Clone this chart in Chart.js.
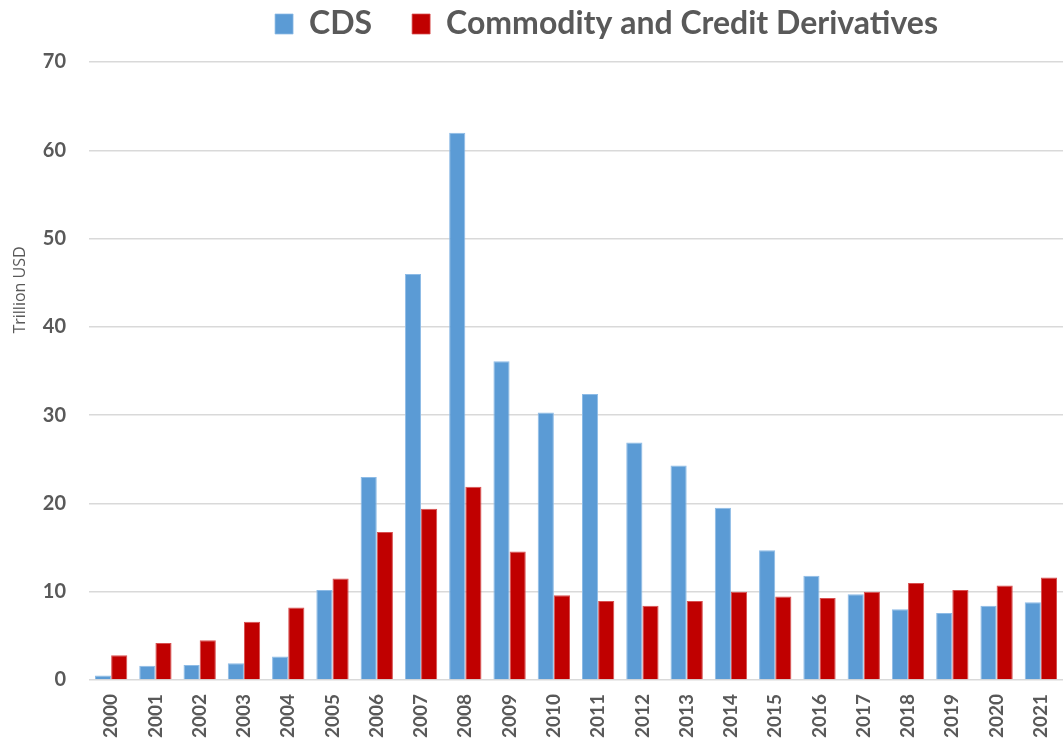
<!DOCTYPE html>
<html>
<head>
<meta charset="utf-8">
<script src="https://cdn.jsdelivr.net/npm/chart.js@4/dist/chart.umd.min.js"></script>
<style>
  html, body { margin: 0; padding: 0; background: #ffffff; }
  #wrap { width: 1063px; height: 742px; position: relative; }
</style>
</head>
<body>
<div id="wrap"><canvas id="c" width="1063" height="742"></canvas></div>
<script>
// Years on the category axis
const years = ['2000','2001','2002','2003','2004','2005','2006','2007','2008','2009','2010',
               '2011','2012','2013','2014','2015','2016','2017','2018','2019','2020','2021'];

// Notional outstanding, trillion USD
const cdsValues = [0.5, 1.6, 1.7, 1.9, 2.65, 10.2, 23.0, 46.0, 62.0, 36.1, 30.3,
                   32.4, 26.9, 24.3, 19.5, 14.7, 11.8, 9.7, 8.0, 7.6, 8.4, 8.8];
const commodityCreditValues = [2.8, 4.2, 4.5, 6.6, 8.2, 11.5, 16.75, 19.4, 21.9, 14.55, 9.6,
                               8.95, 8.4, 8.95, 10.0, 9.45, 9.3, 10.0, 11.0, 10.2, 10.7, 11.6];

const seriesNames = ['CDS', 'Commodity and Credit Derivatives'];
const yTicks = [0, 10, 20, 30, 40, 50, 60, 70];
const yAxisTitle = 'Trillion USD';

const textGray = '#595959';
const fontFamily = 'Lato, "Open Sans", sans-serif';

// Rotated axis title on the left, placed in the upper half of the axis
const sideTitle = {
  id: 'sideTitle',
  afterDraw(chart) {
    const ctx = chart.ctx;
    ctx.save();
    ctx.translate(20, 290);
    ctx.rotate(-Math.PI / 2);
    ctx.font = '16px "Open Sans", sans-serif';
    ctx.fillStyle = textGray;
    ctx.textAlign = 'center';
    ctx.textBaseline = 'middle';
    ctx.fillText(yAxisTitle, 0, 0);
    ctx.restore();
  }
};

// Nudge the legend row to the right of the canvas centre
const legendShift = {
  id: 'legendShift',
  afterUpdate(chart) {
    const lg = chart.legend;
    if (lg) { lg.left += 73; lg.right += 73; }
  }
};

new Chart(document.getElementById('c'), {
  type: 'bar',
  data: {
    labels: years,
    datasets: [
      {
        label: seriesNames[0],
        data: cdsValues,
        backgroundColor: '#5B9BD5',
        borderColor: '#8DBBE6',
        borderWidth: { top: 1, left: 1, right: 1, bottom: 0 },
        categoryPercentage: 0.73,
        barPercentage: 1.0
      },
      {
        label: seriesNames[1],
        data: commodityCreditValues,
        backgroundColor: '#C00000',
        borderColor: '#D85050',
        borderWidth: { top: 1, left: 1, right: 1, bottom: 0 },
        categoryPercentage: 0.73,
        barPercentage: 1.0
      }
    ]
  },
  options: {
    responsive: false,
    animation: false,
    layout: { padding: { top: -32, right: -4, bottom: 0, left: 0 } },
    plugins: {
      tooltip: { enabled: false },
      legend: {
        position: 'top',
        align: 'center',
        labels: {
          boxWidth: 18,
          boxHeight: 20,
          padding: 40,
          color: textGray,
          font: { family: fontFamily, size: 32, weight: 'bold' }
        }
      },
      subtitle: {
        display: true,
        text: '',
        weight: 500,
        padding: { top: 0, bottom: 0 },
        font: { size: 10 }
      }
    },
    scales: {
      x: {
        grid: { display: false },
        border: { display: false },
        ticks: {
          color: textGray,
          font: { family: fontFamily, size: 19, weight: 'bold' },
          minRotation: 90,
          maxRotation: 90,
          padding: 6,
          autoSkip: false
        },
        afterFit(scale) {
          scale.height = 62;
          scale.paddingLeft = 0;
          scale.paddingRight = -4;
        }
      },
      y: {
        min: 0,
        max: 70,
        afterBuildTicks(scale) { scale.ticks = yTicks.map(v => ({ value: v })); },
        grid: { color: '#D9D9D9', lineWidth: 1.5, drawTicks: false },
        border: { display: false },
        ticks: {
          color: textGray,
          font: { family: fontFamily, size: 20, weight: 'bold' },
          padding: 23
        },
        afterFit(scale) { scale.width = 89; }
      }
    }
  },
  plugins: [sideTitle, legendShift]
});
</script>
</body>
</html>
